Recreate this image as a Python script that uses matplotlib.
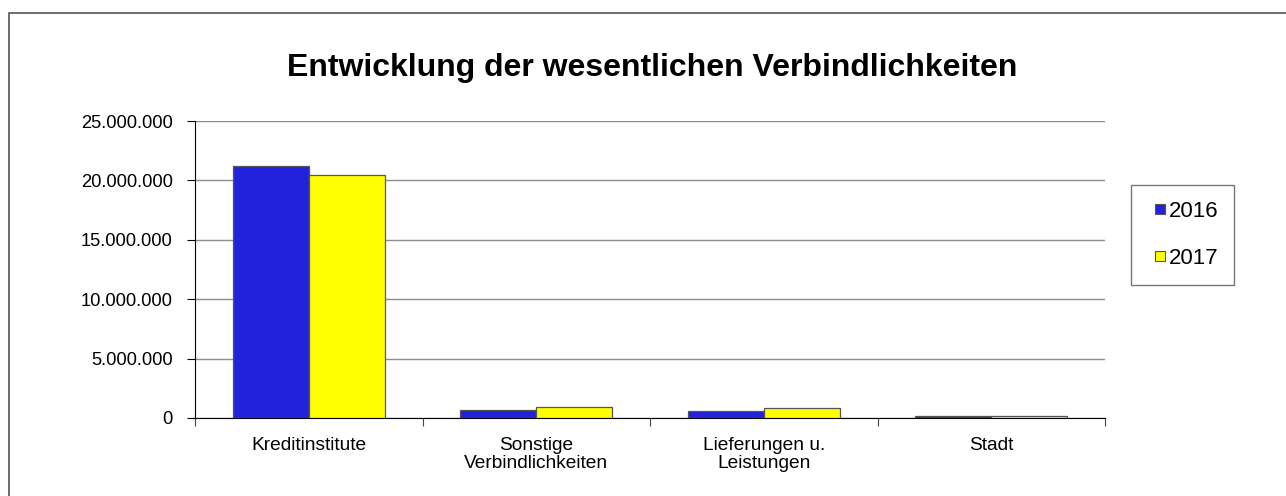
import matplotlib
matplotlib.use("Agg")
import matplotlib.pyplot as plt
from matplotlib.patches import Rectangle
from matplotlib.lines import Line2D
from matplotlib.ticker import FuncFormatter, FixedLocator
import numpy as np

categories = ["Kreditinstitute", "Sonstige\nVerbindlichkeiten", "Lieferungen u.\nLeistungen", "Stadt"]
years = ["2016", "2017"]
values_2016 = [21240000, 670000, 610000, 200000]
values_2017 = [20430000, 890000, 870000, 160000]
colors = ["#2222DD", "#FFFF00"]

plt.rcParams["font.family"] = ["Liberation Sans", "DejaVu Sans"]

fig = plt.figure(figsize=(12.86, 4.96), dpi=100)
ax = fig.add_axes([195 / 1286, 1 - 418 / 496, 910 / 1286, 297 / 496])

# outer chart border (only top and left visible)
fig.patches.append(Rectangle((9 / 1286, -0.05), 1.2, 1 - 13 / 496 + 0.05,
                             transform=fig.transFigure, fill=False,
                             edgecolor="#555555", linewidth=1.2))

x = np.arange(len(categories))
w = 1 / 3
for i, (vals, c) in enumerate(zip([values_2016, values_2017], colors)):
    ax.bar(x + (i - 0.5) * w, vals, width=w, color=c, edgecolor="#555555",
           linewidth=0.9, label=years[i], zorder=3)

ax.set_xlim(-0.5, len(categories) - 0.5)
ax.set_ylim(0, 25000000)
ax.yaxis.set_major_locator(FixedLocator(np.arange(0, 25000001, 5000000)))
ax.yaxis.set_major_formatter(FuncFormatter(lambda v, p: f"{int(v):,}".replace(",", ".")))
ax.grid(axis="y", color="#8c8c8c", linewidth=1, zorder=0)

ax.set_xticks(np.arange(len(categories) + 1) - 0.5)
ax.set_xticklabels([])
ax.set_xticks(x, minor=True)
ax.set_xticklabels(categories, minor=True, fontsize=13.8, linespacing=1.05)
ax.tick_params(axis="x", which="minor", length=0, pad=14)
ax.tick_params(axis="x", which="major", length=6, color="#444444")
ax.tick_params(axis="y", length=6, labelsize=13.2, pad=10)

for s in ["top", "right"]:
    ax.spines[s].set_visible(False)
ax.spines["left"].set_color("black")
ax.spines["bottom"].set_color("black")

fig.text(652 / 1286, 1 - 68 / 496, "Entwicklung der wesentlichen Verbindlichkeiten",
         ha="center", va="center", fontsize=23, fontweight="bold")

handles = [Line2D([], [], linestyle="none", marker="s", markersize=6.5,
                  markerfacecolor=c, markeredgecolor="#555555", markeredgewidth=0.8)
           for c in colors]
leg = fig.legend(handles, years, loc="upper left",
                 bbox_to_anchor=(1131 / 1286, 1 - 185 / 496),
                 frameon=True, fancybox=False, edgecolor="#555555", fontsize=16,
                 handlelength=1.2, handletextpad=-0.2,
                 labelspacing=1.2, borderpad=0.7, borderaxespad=0)
leg.get_frame().set_linewidth(1.0)

fig.savefig("out.png", dpi=100)
